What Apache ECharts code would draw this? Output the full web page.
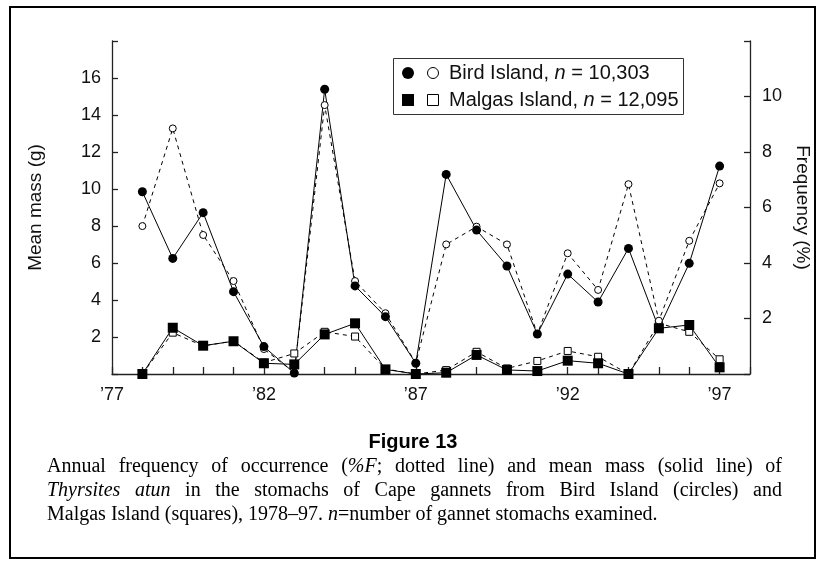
<!DOCTYPE html>
<html>
<head>
<meta charset="utf-8">
<script src="https://cdn.jsdelivr.net/npm/echarts@6/dist/echarts.min.js"></script>
<style>
  html, body { margin: 0; padding: 0; background: #fff; }
  #chart { width: 825px; height: 567px; }
</style>
</head>
<body>
<div id="chart"></div>
<script>
// Survey years, 1978–97
const years = [1978, 1979, 1980, 1981, 1982, 1983, 1984, 1985, 1986, 1987,
               1988, 1989, 1990, 1991, 1992, 1993, 1994, 1995, 1996, 1997];

// Bird Island: mean mass (g) and frequency of occurrence (%)
const birdMass = [9.85, 6.25, 8.72, 4.45, 1.48, 0.05, 15.39, 4.76, 3.1, 0.58,
                  10.79, 7.78, 5.84, 2.16, 5.4, 3.89, 6.79, 2.47, 5.98, 11.24];
const birdFreq = [5.33, 8.85, 5.01, 3.35, 0.9, 0.05, 9.69, 3.35, 2.19, 0.4,
                  4.67, 5.31, 4.67, 1.44, 4.35, 3.03, 6.84, 1.92, 4.8, 6.87];

// Malgas Island: mean mass (g) and frequency of occurrence (%)
const malgasMass = [0, 2.5, 1.53, 1.77, 0.58, 0.52, 2.14, 2.74, 0.25, 0,
                    0.07, 1.03, 0.22, 0.16, 0.72, 0.58, 0, 2.47, 2.65, 0.36];
const malgasFreq = [0, 1.49, 1.01, 1.19, 0.41, 0.74, 1.52, 1.35, 0.18, 0,
                    0.14, 0.8, 0.2, 0.47, 0.83, 0.62, 0, 1.83, 1.52, 0.53];

// Labelled years on the x axis
const yearLabels = [1977, 1982, 1987, 1992, 1997];

const pairs = (vals) => years.map((y, i) => [y, vals[i]]);

const AXIS = '#222';
const SANS = '"Liberation Sans", Arial, sans-serif';
const SERIF_NAME = 'Liberation Serif';
const SERIF = '"Liberation Serif", serif';
const CAPTION_SIZE = 20;
const CAPTION_LEFT = 47;
const CAPTION_WIDTH = 735;

const chart = echarts.init(document.getElementById('chart'), null, { renderer: 'canvas' });

function lineSeries(name, vals, yAxisIndex, symbol, filled, dashed, size) {
  return {
    name: name,
    type: 'line',
    yAxisIndex: yAxisIndex,
    data: pairs(vals),
    symbol: symbol,
    symbolSize: size,
    showAllSymbol: true,
    silent: true,
    animation: false,
    lineStyle: { color: '#000', width: 1, type: dashed ? [4, 4] : 'solid' },
    itemStyle: {
      color: filled ? '#000' : '#fff',
      borderColor: '#000',
      borderWidth: filled ? 0 : 1
    }
  };
}

// Caption text, set word by word so full lines can be justified
const measureCtx = document.createElement('canvas').getContext('2d');
function measure(text, italic) {
  measureCtx.font = (italic ? 'italic ' : '') + CAPTION_SIZE + 'px "' + SERIF_NAME + '", serif';
  return measureCtx.measureText(text).width;
}
const captionRich = {
  t: { fontFamily: SERIF, fontSize: CAPTION_SIZE, fill: '#000' },
  i: { fontFamily: SERIF, fontSize: CAPTION_SIZE, fontStyle: 'italic', fill: '#000' }
};
function captionLine(y, segments, justify) {
  const words = [];
  let cur = [];
  segments.forEach(([txt, italic]) => {
    txt.split(' ').forEach((part, k) => {
      if (k > 0) { if (cur.length) words.push(cur); cur = []; }
      if (part) cur.push([part, italic]);
    });
  });
  if (cur.length) words.push(cur);
  const widths = words.map(w => w.reduce((s, [t, it]) => s + measure(t, it), 0));
  const total = widths.reduce((a, b) => a + b, 0);
  const gap = justify ? (CAPTION_WIDTH - total) / (words.length - 1) : measure(' ', false);
  let x = CAPTION_LEFT;
  return words.map((w, i) => {
    const el = {
      type: 'text', x: x, y: y,
      style: {
        text: w.map(([t, it]) => '{' + (it ? 'i' : 't') + '|' + t + '}').join(''),
        verticalAlign: 'middle',
        rich: captionRich
      }
    };
    x += widths[i] + gap;
    return el;
  });
}

function legendLine(y, text) {
  return {
    type: 'text', x: 449, y: y, z: 11,
    style: {
      text: text,
      verticalAlign: 'middle',
      rich: {
        t: { fontFamily: SANS, fontSize: 20, fill: '#111' },
        i: { fontFamily: SANS, fontSize: 20, fontStyle: 'italic', fill: '#111' }
      }
    }
  };
}

const option = {
  animation: false,
  backgroundColor: '#fff',
  grid: { left: 112, right: 75, top: 41, bottom: 193 },
  xAxis: {
    type: 'value',
    min: 1977,
    max: 1998,
    interval: 1,
    axisLine: { show: true, lineStyle: { color: AXIS, width: 1.3 } },
    axisTick: { show: true, inside: true, length: 7, lineStyle: { color: AXIS, width: 1.3 } },
    splitLine: { show: false },
    axisLabel: {
      margin: 12,
      color: '#111',
      fontFamily: SANS,
      fontSize: 18,
      formatter: (v) => yearLabels.includes(v) ? '\u2019' + String(v).slice(2) : ''
    }
  },
  yAxis: [
    {
      type: 'value',
      position: 'left',
      min: 0, max: 18, interval: 2,
      name: 'Mean mass (g)',
      nameLocation: 'middle',
      nameRotate: 90,
      nameGap: 67,
      nameTextStyle: { color: '#111', fontFamily: SANS, fontSize: 19 },
      axisLine: { show: true, lineStyle: { color: AXIS, width: 1.3 } },
      axisTick: { show: true, inside: true, length: 6, lineStyle: { color: AXIS, width: 1.3 } },
      splitLine: { show: false },
      axisLabel: {
        margin: 11, color: '#111', fontFamily: SANS, fontSize: 18,
        formatter: (v) => (v === 0 || v === 18) ? '' : String(v)
      }
    },
    {
      type: 'value',
      position: 'right',
      min: 0, max: 12, interval: 2,
      name: 'Frequency (%)',
      nameLocation: 'middle',
      nameRotate: -90,
      nameGap: 22,
      nameTextStyle: { color: '#111', fontFamily: SANS, fontSize: 19 },
      axisLine: { show: true, lineStyle: { color: AXIS, width: 1.3 } },
      axisTick: { show: true, inside: true, length: 6, lineStyle: { color: AXIS, width: 1.3 } },
      splitLine: { show: false },
      axisLabel: {
        margin: 12, color: '#111', fontFamily: SANS, fontSize: 18,
        formatter: (v) => (v === 0 || v === 12) ? '' : String(v)
      }
    }
  ],
  series: [
    lineSeries('Malgas frequency', malgasFreq, 1, 'rect', false, true, 7),
    lineSeries('Bird frequency', birdFreq, 1, 'circle', false, true, 7),
    lineSeries('Malgas mass', malgasMass, 0, 'rect', true, false, 10),
    lineSeries('Bird mass', birdMass, 0, 'circle', true, false, 9)
  ],
  graphic: [
    // outer frame
    { type: 'rect', shape: { x: 10, y: 7, width: 805, height: 551 },
      style: { fill: 'none', stroke: '#000', lineWidth: 2 }, silent: true },
    // legend box and its symbols
    { type: 'rect', shape: { x: 393.5, y: 58.5, width: 290, height: 56 },
      style: { fill: '#fff', stroke: '#333', lineWidth: 1 }, z: 10 },
    { type: 'circle', shape: { cx: 408, cy: 73, r: 6 }, style: { fill: '#000' }, z: 11 },
    { type: 'circle', shape: { cx: 433, cy: 73, r: 5.5 },
      style: { fill: '#fff', stroke: '#000', lineWidth: 1 }, z: 11 },
    { type: 'rect', shape: { x: 402, y: 94, width: 12, height: 12 }, style: { fill: '#000' }, z: 11 },
    { type: 'rect', shape: { x: 427.5, y: 94.5, width: 11, height: 11 },
      style: { fill: '#fff', stroke: '#000', lineWidth: 1 }, z: 11 },
    legendLine(73, '{t|Bird Island, }{i|n}{t| = 10,303}'),
    legendLine(100, '{t|Malgas Island, }{i|n}{t| = 12,095}'),
    // figure heading and caption
    { type: 'text', x: 413, y: 442,
      style: { text: 'Figure 13', align: 'center', verticalAlign: 'middle',
               fontFamily: SANS, fontWeight: 'bold', fontSize: 20, fill: '#000' } }
  ]
    .concat(captionLine(467, [['Annual frequency of occurrence (', false], ['%F', true],
                              ['; dotted line) and mean mass (solid line) of', false]], true))
    .concat(captionLine(491, [['Thyrsites atun', true],
                              [' in the stomachs of Cape gannets from Bird Island (circles) and', false]], true))
    .concat(captionLine(515, [['Malgas Island (squares), 1978\u201397. ', false], ['n', true],
                              ['=number of gannet stomachs examined.', false]], false))
};

chart.setOption(option);
</script>
</body>
</html>
